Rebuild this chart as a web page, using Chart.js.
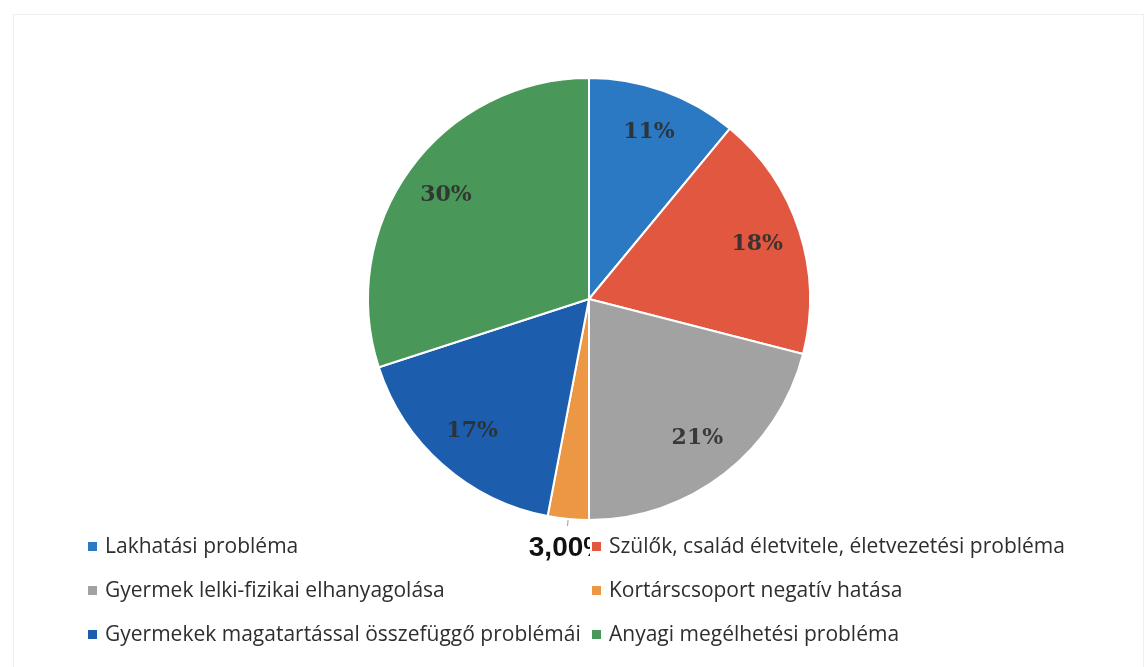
<!DOCTYPE html>
<html><head><meta charset="utf-8">
<script src="https://cdn.jsdelivr.net/npm/chart.js@4/dist/chart.umd.min.js"></script>
<style>
html,body{margin:0;padding:0;background:#fff;}
#wrap{position:relative;width:1148px;height:667px;overflow:hidden;}
#frame{position:absolute;left:13px;top:14px;width:1131px;height:700px;border:1px solid #efefef;box-sizing:border-box;}
canvas{position:absolute;left:0;top:0;}
</style>
</head><body>
<div id="wrap"><div id="frame"></div><canvas id="c" width="1148" height="667"></canvas></div>
<script>
const categories = [
  'Lakhatási probléma',
  'Szülők, család életvitele, életvezetési probléma',
  'Gyermek lelki-fizikai elhanyagolása',
  'Kortárscsoport negatív hatása',
  'Gyermekek magatartással összefüggő problémái',
  'Anyagi megélhetési probléma'
];
const values = [11, 18, 21, 3, 17, 30];
const valueLabels = ['11%', '18%', '21%', '3,00%', '17%', '30%'];
const colors = ['#2b79c2', '#e1573f', '#a2a2a2', '#ec9744', '#1c5ead', '#4a9859'];

const legendCols = [88, 592];
const legendRows = [546, 590, 634];

const labelPlugin = {
  id: 'sliceLabels',
  afterDatasetsDraw(chart) {
    const ctx = chart.ctx;
    const meta = chart.getDatasetMeta(0);
    meta.data.forEach((arc, i) => {
      const p = arc.getProps(['x', 'y', 'startAngle', 'endAngle', 'outerRadius']);
      const mid = (p.startAngle + p.endAngle) / 2;
      const cs = Math.cos(mid), sn = Math.sin(mid);
      ctx.save();
      if (values[i] < 5) {
        const R = p.outerRadius;
        ctx.strokeStyle = '#9a9a9a';
        ctx.lineWidth = 1;
        ctx.beginPath();
        ctx.moveTo(p.x + cs * (R + 1), p.y + sn * (R + 1));
        ctx.lineTo(p.x + cs * (R + 7), p.y + sn * (R + 7));
        ctx.stroke();
        const r = R + 29;
        ctx.beginPath();
        ctx.rect(0, 0, legendCols[1] - 2, chart.height);
        ctx.clip();
        ctx.font = 'bold 28px "Liberation Sans", Arial, sans-serif';
        ctx.fillStyle = '#111';
        ctx.textAlign = 'center';
        ctx.textBaseline = 'middle';
        ctx.fillText(valueLabels[i], p.x + cs * r + 3, p.y + sn * r);
      } else {
        const r = p.outerRadius * 0.8;
        ctx.font = 'bold 22px "DejaVu Serif", serif';
        ctx.fillStyle = 'rgba(45,45,45,0.9)';
        ctx.textAlign = 'center';
        ctx.textBaseline = 'middle';
        ctx.fillText(valueLabels[i], p.x + cs * r, p.y + sn * r);
      }
      ctx.restore();
    });
  }
};

const legendPlugin = {
  id: 'gridLegend',
  afterDraw(chart) {
    const ctx = chart.ctx;
    ctx.save();
    ctx.font = '21px "Open Sans", sans-serif';
    ctx.textBaseline = 'middle';
    ctx.textAlign = 'left';
    categories.forEach((name, i) => {
      const x = legendCols[i % 2];
      const y = legendRows[Math.floor(i / 2)];
      ctx.fillStyle = colors[i];
      ctx.fillRect(x, y - 4, 9, 9);
      ctx.fillStyle = '#2e2e2e';
      ctx.fillText(name, x + 17, y + 1);
    });
    ctx.restore();
  }
};

new Chart(document.getElementById('c'), {
  type: 'pie',
  data: {
    labels: categories,
    datasets: [{
      data: values,
      backgroundColor: colors,
      borderColor: '#ffffff',
      borderWidth: 2
    }]
  },
  options: {
    responsive: false,
    animation: false,
    layout: { padding: { top: 77, bottom: 146, left: 30, right: 0 } },
    plugins: {
      legend: { display: false },
      tooltip: { enabled: false }
    }
  },
  plugins: [labelPlugin, legendPlugin]
});
</script>
</body></html>
